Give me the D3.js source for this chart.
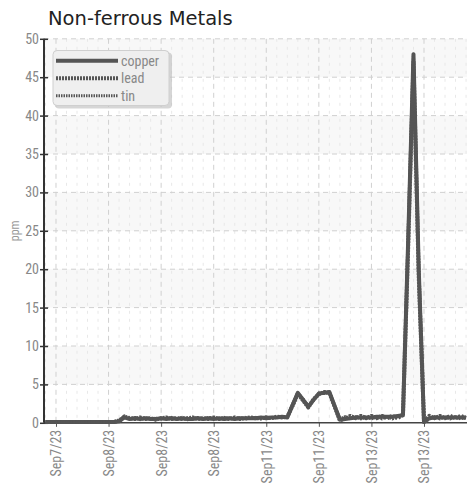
<!DOCTYPE html>
<html><head><meta charset="utf-8">
<script src="https://cdn.jsdelivr.net/npm/d3@7"></script>
<style>
body{margin:0;background:#fff;}
svg{display:block;}
.cond{font-family:"Liberation Sans Narrow","Roboto Condensed","Arial Narrow",sans-serif;font-stretch:condensed;}
</style></head>
<body>
<svg id="c" width="467" height="486"></svg>
<script>
const title = "Non-ferrous Metals";
const yLabel = "ppm";
const seriesNames = ["copper", "lead", "tin"];
const tickLabels = ["Sep7/23","Sep8/23","Sep8/23","Sep8/23","Sep11/23","Sep11/23","Sep13/23","Sep13/23"];
const tickIndex = [2,12,22,32,42,52,62,72];
const yTicks = [0,5,10,15,20,25,30,35,40,45,50];

const copper = [0.1,0.1,0.1,0.1,0.1,0.1,0.1,0.1,0.1,0.1,0.1,0.1,0.1,0.1,0.2,0.7,0.5,0.6,0.5,0.6,0.5,0.5,0.6,0.5,0.6,0.5,0.6,0.5,0.5,0.6,0.5,0.6,0.5,0.6,0.5,0.6,0.5,0.6,0.6,0.6,0.6,0.7,0.6,0.7,0.7,0.8,0.7,2.3,3.9,3.0,2.1,3.0,3.8,3.9,4.0,2.2,0.4,0.5,0.6,0.7,0.7,0.7,0.7,0.8,0.8,0.8,0.8,0.9,1.0,24,48,20,0.1,0.6,0.7,0.7,0.7,0.7,0.7,0.7,0.7];
const lead   = [0.1,0.1,0.1,0.1,0.1,0.1,0.1,0.1,0.1,0.1,0.1,0.1,0.1,0.1,0.3,0.8,0.6,0.5,0.7,0.5,0.6,0.4,0.6,0.7,0.5,0.6,0.5,0.6,0.7,0.5,0.6,0.5,0.7,0.5,0.6,0.5,0.7,0.5,0.6,0.7,0.6,0.6,0.7,0.6,0.8,0.7,0.8,2.2,3.8,2.9,2.0,3.1,3.7,4.0,3.9,2.1,0.3,0.6,0.9,0.6,0.9,0.6,0.9,0.6,0.9,0.6,0.9,0.6,1.1,23,47,19,0.1,0.9,0.6,0.9,0.6,0.9,0.6,0.9,0.6];
const tin    = [0.1,0.1,0.1,0.1,0.1,0.1,0.1,0.1,0.1,0.1,0.1,0.1,0.1,0.1,0.2,0.9,0.5,0.7,0.4,0.7,0.5,0.6,0.5,0.6,0.7,0.5,0.7,0.4,0.6,0.7,0.5,0.7,0.6,0.5,0.7,0.6,0.5,0.7,0.5,0.6,0.7,0.5,0.8,0.6,0.7,0.8,0.7,2.4,3.9,3.1,2.2,2.9,3.9,3.8,4.0,2.3,0.5,0.8,0.5,0.8,0.5,0.8,0.5,0.8,0.5,0.8,0.5,0.8,0.9,25,48,21,0.1,0.5,0.8,0.5,0.8,0.5,0.8,0.5,0.8];

const svg = d3.select("#c");
const L = 44, R = 467, T = 38.8, B = 422.8;
const x = d3.scaleLinear().domain([-0.28, 80.18]).range([L, R]);
const y = d3.scaleLinear().domain([0, 50]).range([B, T]);
const grey = "#555";

// title
svg.append("text").attr("x", 48).attr("y", 25).attr("font-family","DejaVu Sans, Verdana, sans-serif")
  .attr("font-size", 19.5).attr("fill","#222").text(title);

// bands
const g = svg.append("g");
for (let v = 5; v < 50; v += 10) {
  g.append("rect").attr("x", L).attr("width", R - L)
   .attr("y", y(v + 5)).attr("height", y(v) - y(v + 5)).attr("fill", "#f8f8f8");
}
// minor vertical grid
const minor = d3.range(-8, 82, 2).filter(i => !tickIndex.includes(i));
g.selectAll(".mn").data(minor).join("line")
  .attr("x1", d => x(d)).attr("x2", d => x(d)).attr("y1", T).attr("y2", B)
  .attr("stroke", "#e8e8e8").attr("stroke-width", 1).attr("stroke-dasharray", "3,5")
  .filter(d => x(d) < L || x(d) > R).remove();
// major grid
g.selectAll(".hy").data(yTicks.filter(v => v > 0)).join("line")
  .attr("x1", L).attr("x2", R).attr("y1", d => y(d)).attr("y2", d => y(d))
  .attr("stroke", "#d0d0d0").attr("stroke-dasharray", "5,4");
g.selectAll(".vx").data(tickIndex).join("line")
  .attr("x1", d => x(d)).attr("x2", d => x(d)).attr("y1", T).attr("y2", B)
  .attr("stroke", "#d0d0d0").attr("stroke-dasharray", "5,4");

// axes
const yAxis = d3.axisLeft(y).tickValues(yTicks).tickSize(0).tickPadding(5);
const ya = svg.append("g").attr("transform", `translate(${L},0)`).call(yAxis);
ya.select(".domain").remove();
ya.selectAll("text").attr("class","cond").attr("font-size", 14).attr("fill", "#888");
ya.selectAll(".tick").append("line").attr("x1",-4).attr("x2",4).attr("stroke","#333").attr("stroke-width",1.5);

const xAxis = d3.axisBottom(x).tickValues(tickIndex).tickFormat((d,i) => tickLabels[i]).tickSize(4).tickPadding(0);
const xa = svg.append("g").attr("transform", `translate(0,${B})`).call(xAxis);
xa.select(".domain").remove();
xa.selectAll(".tick line").attr("stroke","#555");
xa.selectAll("text").attr("class","cond").attr("font-size", 14).attr("fill", "#888")
  .attr("text-anchor","end").attr("transform","translate(0,7) rotate(-90)").attr("dy","0.35em").attr("y",0).attr("x",0);

svg.append("line").attr("x1", L).attr("x2", R).attr("y1", B).attr("y2", B).attr("stroke", "#444").attr("stroke-width", 1.5);
svg.append("line").attr("x1", L).attr("x2", L).attr("y1", T).attr("y2", B).attr("stroke", "#333").attr("stroke-width", 2);

svg.append("text").attr("class","cond").attr("font-size", 12).attr("fill","#999")
  .attr("transform", `translate(19,${(T+B)/2}) rotate(-90)`).attr("text-anchor","middle").text(yLabel);

// lines
const line = d3.line().x((d,i) => x(i)).y(d => y(d));
const styles = [
  {w:4, dash:null},
  {w:4, dash:"2,1"},
  {w:3, dash:"1.5,1"}
];
[copper, lead, tin].forEach((s, k) => {
  svg.append("path").datum(s).attr("d", line).attr("fill","none")
    .attr("stroke", grey).attr("stroke-width", styles[k].w)
    .attr("stroke-dasharray", styles[k].dash).attr("stroke-linejoin","round");
});

// legend
const lg = svg.append("g");
lg.append("rect").attr("x", 55).attr("y", 52.5).attr("width", 117).attr("height", 56).attr("rx", 4)
  .attr("fill", "#bbb").attr("opacity", 0.6);
lg.append("rect").attr("x", 53).attr("y", 50.5).attr("width", 116).attr("height", 55).attr("rx", 4)
  .attr("fill", "#efefef").attr("stroke", "#cfcfcf");
seriesNames.forEach((n, k) => {
  const yy = [60.7, 78.3, 95.7][k];
  lg.append("line").attr("x1", 56).attr("x2", 118).attr("y1", yy).attr("y2", yy)
    .attr("stroke", grey).attr("stroke-width", styles[k].w).attr("stroke-dasharray", styles[k].dash);
  lg.append("text").attr("class","cond").attr("x", 121).attr("y", yy).attr("dy","0.35em")
    .attr("font-size", 14).attr("fill","#888").text(n);
});
</script>
</body></html>
